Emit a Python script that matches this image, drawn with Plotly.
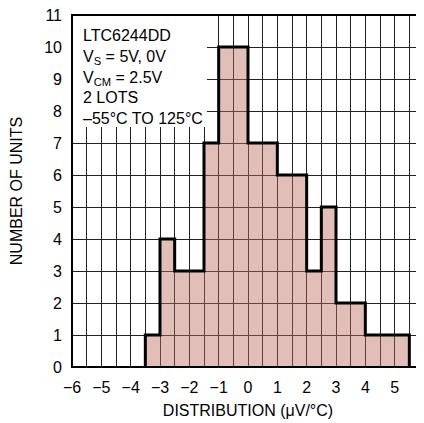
import plotly.graph_objects as go

# histogram bins (left edges, width 0.5) and counts
BIN_WIDTH = 0.5
bin_lefts = [-3.5, -3.0, -2.5, -2.0, -1.5, -1.0, -0.5, 0.0, 0.5,
             1.0, 1.5, 2.0, 2.5, 3.0, 3.5, 4.0, 4.5, 5.0]
counts = [1, 4, 3, 3, 7, 10, 10, 7, 7, 6, 6, 3, 5, 2, 2, 1, 1, 1]

x_ticks = list(range(-6, 7))
y_ticks = list(range(0, 12))

note_lines = [
    "LTC6244DD",
    "V<sub>S</sub> = 5V, 0V",
    "V<sub>CM</sub> = 2.5V",
    "2 LOTS",
    "\u201355\u00b0C TO 125\u00b0C",
]

FONT = "Liberation Sans Narrow, Arial Narrow, Liberation Sans, sans-serif"
FILL = "rgba(190,110,100,0.45)"

centers = [x + BIN_WIDTH / 2 for x in bin_lefts]
right_end = bin_lefts[-1] + BIN_WIDTH
step_x = [bin_lefts[0]] + bin_lefts + [right_end, right_end]
step_y = [0] + counts + [counts[-1], 0]

fig = go.Figure()
fig.add_trace(go.Bar(
    x=centers, y=counts, width=BIN_WIDTH,
    marker=dict(color=FILL, line=dict(width=0)),
    hoverinfo="skip",
))
fig.add_trace(go.Scatter(
    x=step_x, y=step_y, mode="lines",
    line=dict(color="black", width=3, shape="hv"),
    hoverinfo="skip",
))

# white box behind the note text, then the frame on top
fig.add_shape(type="rect", xref="x", yref="y", x0=-6, x1=-1.4, y0=7.5, y1=11,
              fillcolor="white", line=dict(width=0), layer="above")
fig.add_shape(type="rect", xref="paper", yref="paper", x0=0, x1=1, y0=0, y1=1,
              line=dict(color="black", width=2), layer="above")

fig.add_annotation(
    x=-5.7, y=10.7, xref="x", yref="y", xanchor="left", yanchor="top",
    text="<br>".join(note_lines), showarrow=False, align="left",
    font=dict(family=FONT, size=16, color="black"),
)

# page body has an 8px margin, so the figure is 8px smaller than the window
fig.update_layout(
    width=416, height=415,
    margin=dict(l=64, r=0, t=7, b=56, autoexpand=False),
    paper_bgcolor="white", plot_bgcolor="white",
    showlegend=False,
    font=dict(family=FONT, size=16, color="black"),
    xaxis=dict(
        range=[-6, 6], tickvals=x_ticks, showgrid=True, automargin=False,
        gridcolor="#222", gridwidth=1, zeroline=False,
        minor=dict(dtick=0.5, showgrid=True, gridcolor="#222", gridwidth=1),
        ticks="", ticklabelstandoff=9, ticklabeloverflow="allow",
        title=dict(text="DISTRIBUTION (\u03bcV/\u00b0C)", font=dict(size=16), standoff=9),
    ),
    yaxis=dict(
        range=[0, 11], tickvals=y_ticks, showgrid=True, automargin=False,
        gridcolor="#222", gridwidth=1, zeroline=False,
        ticks="", ticklabelstandoff=9, ticklabeloverflow="allow",
        title=dict(text="NUMBER OF UNITS", font=dict(size=16), standoff=20),
    ),
)

fig.write_html("out.html")
